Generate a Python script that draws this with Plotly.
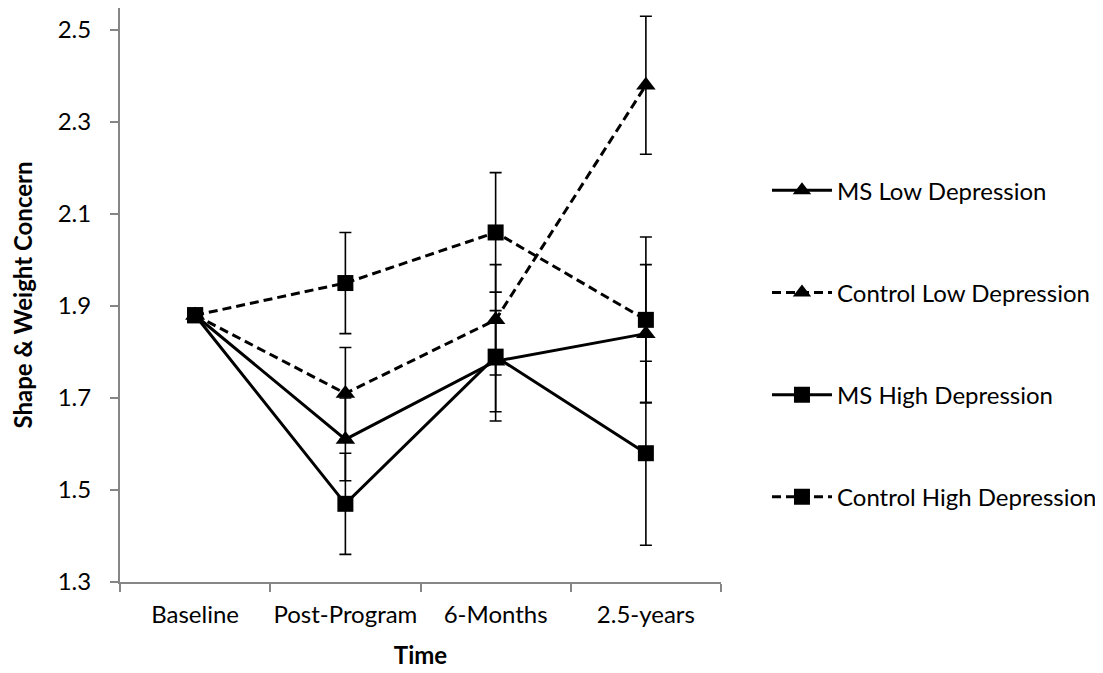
import plotly.graph_objects as go

categories = ["Baseline", "Post-Program", "6-Months", "2.5-years"]

ms_low = [1.88, 1.61, 1.78, 1.84]
ms_low_err = [None, 0.09, 0.11, 0.15]

control_low = [1.88, 1.71, 1.87, 2.38]
control_low_err = [None, 0.10, 0.12, 0.15]

ms_high = [1.88, 1.47, 1.79, 1.58]
ms_high_err = [None, 0.11, 0.14, 0.20]

control_high = [1.88, 1.95, 2.06, 1.87]
control_high_err = [None, 0.11, 0.13, 0.18]

series = [
    ("MS Low Depression", ms_low, ms_low_err, "solid", "triangle-up"),
    ("Control Low Depression", control_low, control_low_err, "9px,5px", "triangle-up"),
    ("MS High Depression", ms_high, ms_high_err, "solid", "square"),
    ("Control High Depression", control_high, control_high_err, "9px,5px", "square"),
]

FONT = "Lato, 'Open Sans', sans-serif"
AXIS_GRAY = "#868686"
FS = 24

fig = go.Figure()
for i, (name, vals, errs, dash, sym) in enumerate(series):
    fig.add_trace(go.Scatter(
        x=categories, y=vals, name=name, mode="lines+markers",
        legendgroup=f"g{i}",
        line=dict(color="black", width=3, dash=dash),
        marker=dict(symbol=sym, size=16 if sym == "square" else 17, color="black"),
        error_y=dict(type="data", array=errs, visible=True, color="black",
                     thickness=1.6, width=6),
    ))

fig.update_layout(
    width=1095, height=665,
    margin=dict(l=112, r=382, t=0, b=91),
    paper_bgcolor="white", plot_bgcolor="white",
    font=dict(family=FONT, size=FS, color="black"),
    showlegend=True,
    legend=dict(x=1.0765, y=0.721, xanchor="left", yanchor="top",
                font=dict(size=FS, family=FONT, color="black"),
                tracegroupgap=68, itemwidth=60, bgcolor="rgba(0,0,0,0)"),
    xaxis=dict(
        type="category", range=[-0.5, 3.5], automargin=False,
        showline=True, linecolor=AXIS_GRAY, linewidth=2,
        ticks="outside", tickson="boundaries", ticklen=8, tickcolor=AXIS_GRAY, tickwidth=2,
        tickangle=0, ticklabelstandoff=10,
        showgrid=False, zeroline=False,
        tickfont=dict(size=FS, family=FONT),
        title=dict(text="<b>Time</b>", font=dict(size=FS, family=FONT), standoff=20),
    ),
    yaxis=dict(
        range=[1.3, 2.548], automargin=False,
        tickvals=[1.3, 1.5, 1.7, 1.9, 2.1, 2.3, 2.5],
        ticktext=["1.3", "1.5", "1.7", "1.9", "2.1", "2.3", "2.5"],
        showline=True, linecolor=AXIS_GRAY, linewidth=2,
        ticks="outside", ticklen=8, tickcolor=AXIS_GRAY, tickwidth=2,
        ticklabelstandoff=14,
        showgrid=False, zeroline=False,
        tickfont=dict(size=FS, family=FONT),
        title=dict(text="<b>Shape & Weight Concern</b>", font=dict(size=FS, family=FONT), standoff=24),
    ),
)

fig.write_html("out.html")
